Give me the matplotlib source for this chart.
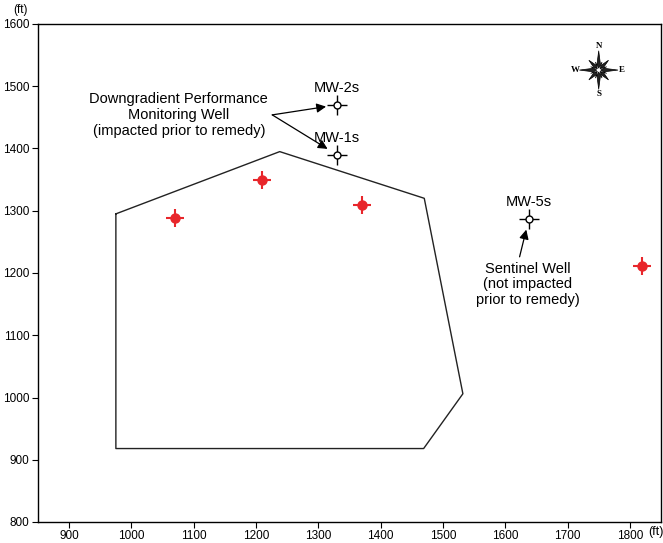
import matplotlib
matplotlib.use("Agg")
import matplotlib.pyplot as plt
import numpy as np
from matplotlib.patches import Polygon

plt.rcParams['font.family'] = ['Liberation Sans', 'DejaVu Sans']

# Data
site_x = [975, 1238, 1470, 1532, 1469, 975]
site_y = [1295, 1395, 1320, 1006, 918, 918]

impacted_x = [1070, 1210, 1370, 1820]
impacted_y = [1288, 1350, 1310, 1212]

well_names = ["MW-2s", "MW-1s", "MW-5s"]
well_x = [1330, 1330, 1638]
well_y = [1470, 1390, 1287]

x_ticks = list(range(900, 1801, 100))
y_ticks = list(range(800, 1601, 100))

fig = plt.figure(figsize=(6.63, 5.43), dpi=100)
ax = fig.add_axes([38/663, 1-522/543, 623/663, 498/543])
ax.set_xlim(850, 1850)
ax.set_ylim(800, 1600)

# site boundary
ax.plot(site_x + [site_x[0]], site_y + [site_y[0]], color='#222222', lw=1.0)

# impacted wells (red)
ax.plot(impacted_x, impacted_y, ls='none', marker='+', ms=13, mew=1.5, color='#e8262b', zorder=4)
ax.plot(impacted_x, impacted_y, ls='none', marker='o', ms=6.5, mfc='#e8262b', mec='#e8262b', zorder=5)

# monitoring wells
ax.plot(well_x, well_y, ls='none', marker='+', ms=14, mew=1.0, color='black', zorder=4)
ax.plot(well_x, well_y, ls='none', marker='o', ms=5, mfc='white', mec='black', mew=1.0, zorder=5)
for n, x, y in zip(well_names, well_x, well_y):
    ax.text(x, y + 16, n, ha='center', va='bottom', fontsize=10.5)

# annotations
ax.text(1076, 1454, "Downgradient Performance\nMonitoring Well\n(impacted prior to remedy)",
        ha='center', va='center', fontsize=10.5, linespacing=1.15)
arrowprops = dict(arrowstyle='-|>', color='black', lw=0.9, mutation_scale=14,
                  shrinkA=0, shrinkB=8)
ax.annotate("", xy=(well_x[0], well_y[0]), xytext=(1226, 1454), arrowprops=arrowprops)
ax.annotate("", xy=(well_x[1], well_y[1]), xytext=(1226, 1454), arrowprops=arrowprops)

ax.text(1636, 1182, "Sentinel Well\n(not impacted\nprior to remedy)",
        ha='center', va='center', fontsize=10.5, linespacing=1.15)
ax.annotate("", xy=(well_x[2], well_y[2]), xytext=(1623, 1226), arrowprops=arrowprops)

# compass rose
cx, cy, R = 1750, 1526, 31
def star(n_pts, r_out, r_in, rot):
    pts = []
    for i in range(2 * n_pts):
        ang = rot + np.pi * i / n_pts
        r = r_out if i % 2 == 0 else r_in
        pts.append((cx + r * np.cos(ang), cy + r * np.sin(ang)))
    return pts
ax.add_patch(Polygon(star(4, R * 0.72, R * 0.16, np.pi / 4), closed=True, fc='#222222', ec='black', lw=0.5, zorder=6))
ax.add_patch(Polygon(star(4, R, R * 0.16, 0), closed=True, fc='#222222', ec='black', lw=0.5, zorder=7))
ax.add_patch(Polygon(star(8, R * 0.45, R * 0.1, np.pi / 8), closed=True, fc='white', ec='black', lw=0.5, zorder=8))
for lab, dx, dy in [("N", 0, 1), ("S", 0, -1), ("W", -1, 0), ("E", 1, 0)]:
    ax.text(cx + dx * (R + 7), cy + dy * (R + 7), lab, ha='center', va='center',
            fontsize=6.5, fontweight='bold', family=['Liberation Serif', 'DejaVu Serif'])

# axes styling
ax.set_xticks(x_ticks)
ax.set_yticks(y_ticks)
ax.tick_params(direction='out', length=4, width=0.8, labelsize=8.5, pad=2)
for s in ax.spines.values():
    s.set_linewidth(1.0)
ax.text(-0.028, 1.016, "(ft)", transform=ax.transAxes, ha='center', va='bottom', fontsize=8.5)
ax.text(0.9925, -0.008, "(ft)", transform=ax.transAxes, ha='center', va='top', fontsize=9)

fig.savefig("out.png", dpi=100)
